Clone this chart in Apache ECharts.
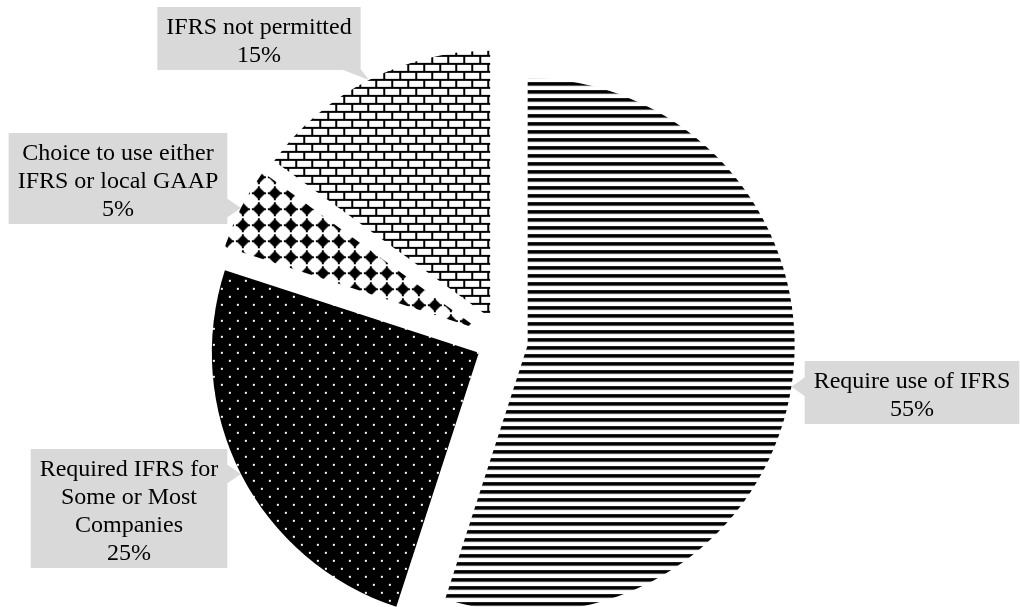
<!DOCTYPE html>
<html><head><meta charset="utf-8">
<script src="https://cdn.jsdelivr.net/npm/echarts@6/dist/echarts.min.js"></script>
<style>html,body{margin:0;padding:0;background:#fff}#c{width:1020px;height:607px}</style>
</head><body><div id="c"></div>
<script>
// ---- data ----
const categories = ['Require use of IFRS', 'Required IFRS for Some or Most Companies', 'Choice to use either IFRS or local GAAP', 'IFRS not permitted'];
const labelLines = [['Require use of IFRS'], ['Required IFRS for', 'Some or Most', 'Companies'], ['Choice to use either', 'IFRS or local GAAP'], ['IFRS not permitted']];
const values = [55, 25, 5, 15];

// ---- layout / style ----
const pieCenter = [502, 341];
const pieRadius = 267;
const explode = 26;
const labelAnchors = [[912, 361], [129, 449], [118, 133], [259, 7]]; // box centre-x, box top
const pointerSides = ['left', 'right', 'right', 'bottom'];
const FONT = '"Liberation Serif","Times New Roman",serif';
const FS = 24, LH = 28, PADT = 7, PADB = 0, PADX = 9;
const BOX = '#d9d9d9';

function tile(w, h, draw) {
  const c = document.createElement('canvas'); c.width = w; c.height = h;
  const g = c.getContext('2d'); g.fillStyle = '#fff'; g.fillRect(0, 0, w, h);
  draw(g); return c;
}
const stripes = tile(8, 8, g => {
  g.fillStyle = '#000'; g.fillRect(0, 6, 8, 2); g.fillRect(0, 0, 8, 1);
  g.fillStyle = 'rgba(0,0,0,0.6)'; g.fillRect(0, 1, 8, 1);
});
const dots = tile(16, 16, g => {
  g.fillStyle = '#000'; g.fillRect(0, 0, 16, 16);
  g.fillStyle = '#fff'; g.fillRect(4, 4, 2, 2); g.fillRect(12, 12, 2, 2);
});
const diamonds = tile(16, 16, g => {
  g.fillStyle = '#000';
  for (const dx of [-16, 0, 16]) for (const dy of [-16, 0, 16]) {
    const cx = 10 + dx, cy = 13 + dy, s = 6.5;
    g.beginPath(); g.moveTo(cx, cy - s); g.lineTo(cx + s, cy); g.lineTo(cx, cy + s); g.lineTo(cx - s, cy); g.closePath(); g.fill();
    g.fillRect(cx - 1, cy - 7, 2, 14); g.fillRect(cx - 7, cy - 1, 14, 2);
  }
});
const bricks = tile(16, 16, g => {
  g.fillStyle = '#000';
  g.fillRect(0, 6, 16, 2); g.fillRect(0, 14, 16, 2);
  g.fillRect(11, 0, 2, 6); g.fillRect(3, 8, 2, 6);
});
const patterns = [stripes, dots, diamonds, bricks].map(c => ({ image: c, repeat: 'repeat' }));

// ---- pointer triangles for the callout boxes ----
const mctx = document.createElement('canvas').getContext('2d');
mctx.font = FS + 'px ' + FONT;
const total = values.reduce((a, b) => a + b, 0);
const graphics = [];
let cum = 0;
values.forEach((v, i) => {
  const theta = (cum + v / 2) / total * 2 * Math.PI; cum += v;
  const dx = Math.sin(theta), dy = -Math.cos(theta);
  const R = pieRadius + explode;
  const tip = [pieCenter[0] + R * dx, pieCenter[1] + R * dy];
  const lines = labelLines[i].concat([Math.round(v / total * 100) + '%']);
  const w = Math.max(...lines.map(l => mctx.measureText(l).width)) + 2 * PADX;
  const h = lines.length * LH + PADT + PADB;
  const [cx, top] = labelAnchors[i];
  const L = cx - w / 2, Rr = cx + w / 2, T = top, B = top + h;
  const hw = 10;
  let b1, b2;
  const side = pointerSides[i];
  if (side === 'left' || side === 'right') {
    const x = side === 'left' ? L + 1 : Rr - 1;
    const m = Math.min(Math.max(tip[1], T + hw), B - hw);
    b1 = [x, m - hw]; b2 = [x, m + hw];
  } else {
    const y = side === 'bottom' ? B - 1 : T + 1;
    const m = Math.min(Math.max(tip[0], L + hw), Rr - hw);
    b1 = [m - hw, y]; b2 = [m + hw, y];
  }
  graphics.push({ type: 'polygon', z: 1, silent: true, shape: { points: [b1, b2, tip] }, style: { fill: BOX } });
});

const chart = echarts.init(document.getElementById('c'), null, { renderer: 'canvas' });
chart.setOption({
  animation: false,
  backgroundColor: '#fff',
  graphic: graphics,
  series: [{
    // exploded, pattern-filled slices
    type: 'pie',
    center: pieCenter,
    radius: pieRadius,
    startAngle: 90,
    clockwise: true,
    selectedMode: 'multiple',
    selectedOffset: explode,
    itemStyle: { borderWidth: 0 },
    emphasis: { disabled: true },
    label: { show: false },
    labelLine: { show: false },
    data: values.map((v, i) => ({
      name: categories[i], value: v, selected: true,
      itemStyle: { color: patterns[i] },
      select: { itemStyle: { color: patterns[i] } }
    }))
  }, {
    // callout labels (same data, invisible slices)
    type: 'pie',
    center: pieCenter,
    radius: pieRadius,
    startAngle: 90,
    clockwise: true,
    silent: true,
    z: 3,
    avoidLabelOverlap: false,
    itemStyle: { color: 'rgba(0,0,0,0)', borderWidth: 0 },
    emphasis: { disabled: true },
    label: {
      show: true,
      position: 'outside',
      formatter: p => labelLines[p.dataIndex].join('\n') + '\n' + Math.round(p.percent) + '%',
      fontFamily: FONT, fontSize: FS, lineHeight: LH, color: '#000',
      backgroundColor: BOX, padding: [PADT, PADX, PADB, PADX], align: 'center'
    },
    labelLine: { show: false },
    labelLayout: p => ({ x: labelAnchors[p.dataIndex][0], y: labelAnchors[p.dataIndex][1], align: 'center', verticalAlign: 'top' }),
    data: values.map((v, i) => ({ name: categories[i], value: v }))
  }]
});
</script>
</body></html>
